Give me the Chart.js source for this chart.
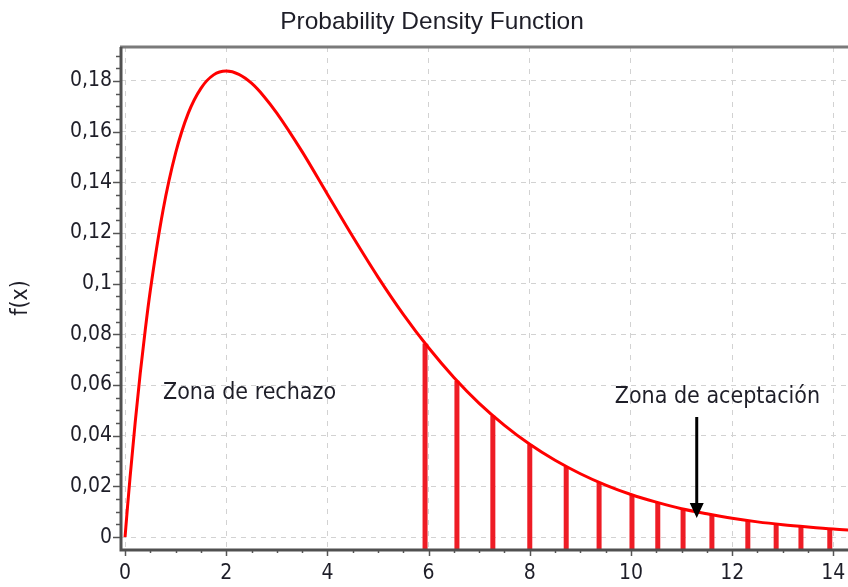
<!DOCTYPE html>
<html>
<head>
<meta charset="utf-8">
<script src="https://cdn.jsdelivr.net/npm/chart.js@4/dist/chart.umd.min.js"></script>
<style>
	html, body { margin: 0; padding: 0; background: #fff; }
	#wrap { width: 848px; height: 587px; position: relative; }
</style>
</head>
<body>
<div id="wrap"><canvas id="pdf"></canvas></div>
<script>
// curve
const curveX = [0, 0.05, 0.1, 0.2, 0.3, 0.4, 0.5, 0.75, 1, 1.25, 1.5, 1.75, 2, 2.25, 2.5, 2.75, 3, 3.5, 4, 4.5, 5, 5.5, 6, 6.5, 7, 7.5, 8, 8.5, 9, 9.5, 10, 10.5, 11, 11.5, 12, 12.5, 13, 13.5, 14, 14.5];
const curveY = [0, 0.0122, 0.0238, 0.0452, 0.0646, 0.0819, 0.0974, 0.1289, 0.1516, 0.1673, 0.1771, 0.1824, 0.1839, 0.1826, 0.1791, 0.1738, 0.1673, 0.1521, 0.1353, 0.1186, 0.1026, 0.0879, 0.0747, 0.0630, 0.0528, 0.0441, 0.0366, 0.0303, 0.0250, 0.0205, 0.0168, 0.0138, 0.0112, 0.0092, 0.0074, 0.0060, 0.0049, 0.0040, 0.0032, 0.0026];

// hatched strokes under the tail
const barX = [5.93, 6.56, 7.27, 8.0, 8.72, 9.37, 10.02, 10.53, 11.03, 11.6, 12.31, 12.87, 13.36, 13.93];
const barY = [0.0764, 0.0617, 0.0479, 0.0366, 0.0278, 0.0216, 0.0167, 0.0136, 0.0111, 0.0088, 0.0065, 0.0052, 0.0042, 0.0033];

const xTicks = [0, 2, 4, 6, 8, 10, 12, 14];
const yTicks = [0, 0.02, 0.04, 0.06, 0.08, 0.1, 0.12, 0.14, 0.16, 0.18];
const xRange = [-0.08, 14.29];
const yRange = [-0.0047, 0.1934];

const title = 'Probability Density Function';
const labels = [
	{ text: 'Zona de rechazo', x: 0.75, y: 0.0568 },
	{ text: 'Zona de aceptación', x: 9.68, y: 0.0553 }
];
const arrow = { x: 11.3, from: 0.0474, to: 0.0075 };

const INK = '#1e1e28';
const FONT = '"DejaVu Sans Condensed", "DejaVu Sans", sans-serif';
const fmt = (v) => String(parseFloat(v.toFixed(3))).replace('.', ',');

// each stem is its own little segment, split by a null point
const stems = barX.flatMap((v, i) => [
	{ x: v, y: yRange[0] },
	{ x: v, y: barY[i] },
	{ x: v, y: null }
]);

const extras = {
	id: 'extras',
	afterDatasetsDraw(chart) {
		const { ctx, chartArea: a, scales: { x, y } } = chart;
		ctx.save();

		// minor / major ticks
		ctx.strokeStyle = '#555';
		ctx.lineWidth = 1.5;
		for (let i = 0; i <= 38; i++) {
			const py = Math.round(y.getPixelForValue(i * 0.005)) + 0.5;
			const len = i % 4 === 0 ? 8 : 5;
			ctx.beginPath();
			ctx.moveTo(a.left - len, py);
			ctx.lineTo(a.left, py);
			ctx.stroke();
		}
		for (let i = 0; i <= 28; i++) {
			const px = Math.round(x.getPixelForValue(i * 0.5)) + 0.5;
			const len = i % 4 === 0 ? 7 : 4;
			ctx.beginPath();
			ctx.moveTo(px, a.bottom);
			ctx.lineTo(px, a.bottom + len);
			ctx.stroke();
		}

		// frame
		ctx.lineWidth = 3;
		ctx.strokeStyle = '#7a7a7a';
		ctx.beginPath();
		ctx.moveTo(a.left - 1, a.top);
		ctx.lineTo(a.right, a.top);
		ctx.stroke();
		ctx.strokeStyle = '#505050';
		ctx.beginPath();
		ctx.moveTo(a.left, a.top);
		ctx.lineTo(a.left, a.bottom + 1);
		ctx.lineTo(a.right, a.bottom + 1);
		ctx.stroke();

		// title
		ctx.fillStyle = INK;
		ctx.textBaseline = 'middle';
		ctx.textAlign = 'center';
		ctx.font = '24.5px "Liberation Sans", Arial, sans-serif';
		ctx.fillText(title, 432, 22);

		// text notes
		ctx.font = '23px ' + FONT;
		ctx.textAlign = 'left';
		labels.forEach((l) => ctx.fillText(l.text, x.getPixelForValue(l.x), y.getPixelForValue(l.y)));

		// arrow
		const ax = x.getPixelForValue(arrow.x);
		const y0 = y.getPixelForValue(arrow.from);
		const y1 = y.getPixelForValue(arrow.to);
		ctx.strokeStyle = '#000';
		ctx.fillStyle = '#000';
		ctx.lineWidth = 3;
		ctx.beginPath();
		ctx.moveTo(ax, y0);
		ctx.lineTo(ax, y1 - 12);
		ctx.stroke();
		ctx.beginPath();
		ctx.moveTo(ax - 7, y1 - 15);
		ctx.lineTo(ax + 7, y1 - 15);
		ctx.lineTo(ax, y1);
		ctx.closePath();
		ctx.fill();

		ctx.restore();
	}
};

new Chart(document.getElementById('pdf'), {
	type: 'line',
	data: {
		datasets: [
			{
				order: 0,
				data: curveX.map((v, i) => ({ x: v, y: curveY[i] })),
				borderColor: '#ff0000',
				borderWidth: 3,
				pointRadius: 0,
				cubicInterpolationMode: 'monotone',
				fill: false
			},
			{
				order: 1,
				data: stems,
				borderColor: '#ee1c25',
				borderWidth: 5,
				borderCapStyle: 'butt',
				pointRadius: 0,
				spanGaps: false,
				tension: 0,
				fill: false
			}
		]
	},
	options: {
		responsive: true,
		maintainAspectRatio: false,
		animation: false,
		layout: { padding: { top: 47, right: 0, left: 0, bottom: 0 } },
		plugins: {
			legend: { display: false },
			tooltip: { enabled: false },
			title: { display: false }
		},
		scales: {
			x: {
				type: 'linear',
				min: xRange[0],
				max: xRange[1],
				offset: false,
				afterBuildTicks: (s) => { s.ticks = xTicks.map((v) => ({ value: v })); },
				afterFit: (s) => { s.height = 38; s.paddingRight = 0; s.paddingLeft = 0; },
				grid: { color: '#d2d2d2', offset: false, drawTicks: false, lineWidth: 1 },
				border: { display: false, dash: [5, 6] },
				ticks: {
					color: INK,
					font: { family: FONT, size: 21 },
					padding: 12,
					maxRotation: 0,
					autoSkip: false,
					callback: (v) => fmt(v)
				}
			},
			y: {
				type: 'linear',
				min: yRange[0],
				max: yRange[1],
				afterBuildTicks: (s) => { s.ticks = yTicks.map((v) => ({ value: v })); },
				afterFit: (s) => { s.width = 121; s.paddingTop = 0; s.paddingBottom = 0; },
				grid: { color: '#d2d2d2', drawTicks: false, lineWidth: 1 },
				border: { display: false, dash: [5, 5] },
				title: {
					display: true,
					text: 'f(x)',
					color: INK,
					font: { family: FONT, size: 23 },
					padding: { top: 7, bottom: 0 }
				},
				ticks: {
					color: INK,
					font: { family: FONT, size: 21 },
					padding: 9,
					callback: (v) => fmt(v)
				}
			}
		}
	},
	plugins: [extras]
});
</script>
</body>
</html>
